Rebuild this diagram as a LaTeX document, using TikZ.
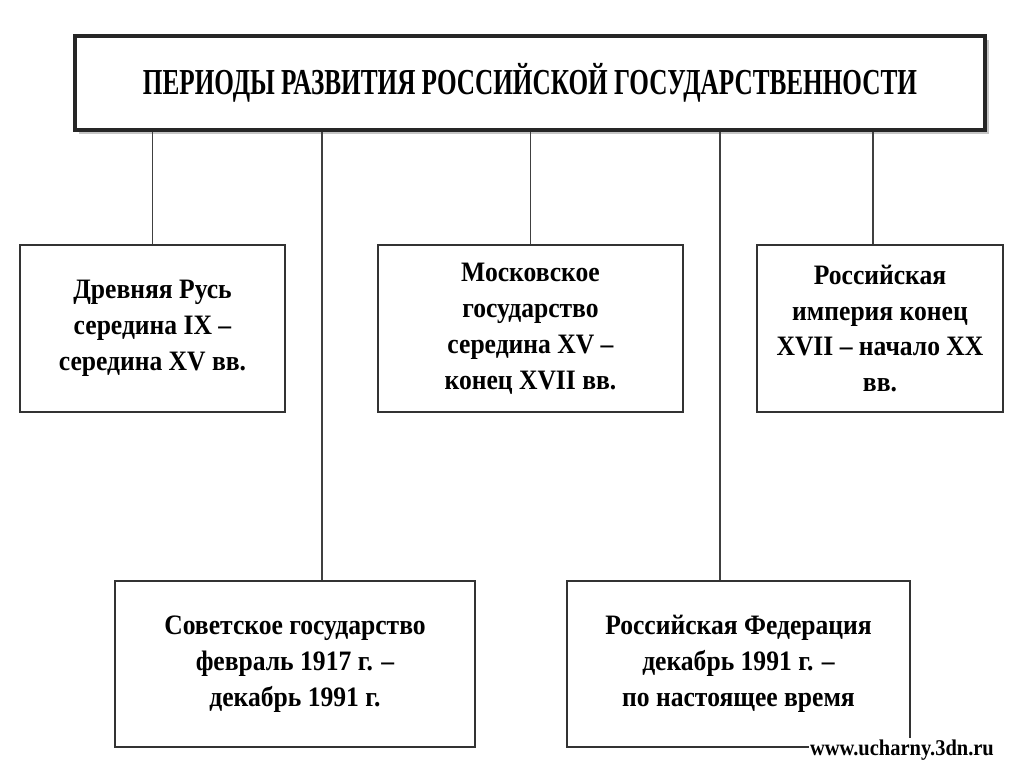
\documentclass[tikz,border=0pt]{standalone}
\usepackage{fontspec}
\setmainfont{Liberation Serif}
\newfontfamily\headfont[FakeStretch=0.69]{Liberation Serif}
\newfontfamily\boxfont[FakeStretch=0.91]{Liberation Serif}
\usetikzlibrary{shadows}
\begin{document}
\begin{tikzpicture}[x=0.025cm, y=-0.025cm,
    period/.style={draw=black!80, line width=1.4pt, fill=white, align=center,
      font=\boxfont\bfseries\fontsize{20}{25.5}\selectfont, inner sep=0pt},
    link/.style={draw=black!75, line width=1.3pt}]
  \useasboundingbox (0,0) rectangle (1024,767);
  \node [draw=black!85, line width=2.6pt, fill=white, minimum width=22.75cm, minimum height=2.35cm,
    drop shadow={shadow xshift=3pt, shadow yshift=-3pt, fill=black!45},
    font=\headfont\bfseries\fontsize{26}{30}\selectfont] (per) at (530,83)
    {\raisebox{-3pt}{ПЕРИОДЫ РАЗВИТИЯ РОССИЙСКОЙ ГОСУДАРСТВЕННОСТИ}};
  \node [period, minimum width=6.625cm, minimum height=4.175cm] (drevn) at (152.5,328.5)
    {Древняя Русь\\середина IX –\\середина XV вв.};
  \node [period, minimum width=7.625cm, minimum height=4.175cm] (mosk) at (530.5,328.5)
    {Московское\\государство\\середина XV –\\конец XVII вв.};
  \node [period, minimum width=6.15cm, minimum height=4.175cm] (imper) at (880,328.5)
    {Российская\\империя конец\\XVII – начало XX\\вв.};
  \node [period, minimum width=9cm, minimum height=4.15cm] (sovet) at (295,664)
    {Советское государство\\февраль 1917 г. –\\декабрь 1991 г.};
  \node [period, minimum width=8.575cm, minimum height=4.15cm] (rf) at (738.5,664)
    {Российская Федерация\\декабрь 1991 г. –\\по настоящее время};
  \draw [link] (per.south -| drevn.north) -- (drevn.north);
  \draw [link] (per.south -| mosk.north) -- (mosk.north);
  \draw [link] (per.south -| 873,0) -- (imper.north -| 873,0);
  \draw [link] (per.south -| 322,0) -- (sovet.north -| 322,0);
  \draw [link] (per.south -| 720,0) -- (rf.north -| 720,0);
  \node [font=\boxfont\bfseries\fontsize{16}{18}\selectfont, fill=white, inner sep=1pt] (wm) at (902,750)
    {www.ucharny.3dn.ru};
\end{tikzpicture}
\end{document}
